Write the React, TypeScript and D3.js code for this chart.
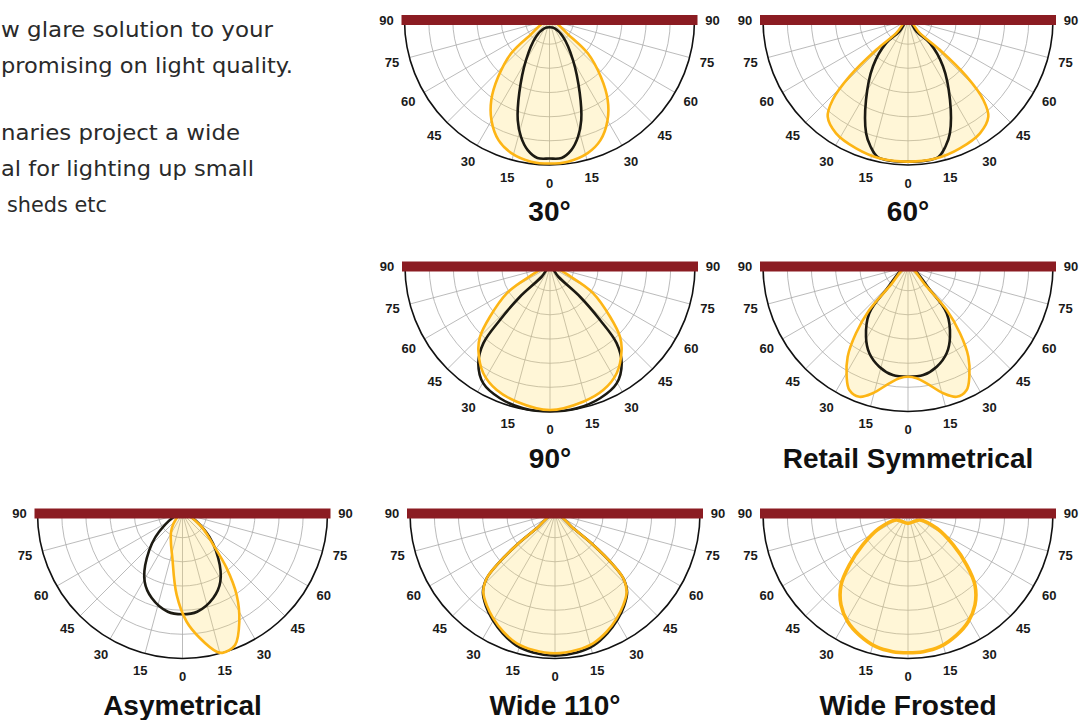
import React from "react";
import * as d3 from "d3";

// [angle from nadir in degrees (+ = right), relative intensity 0..1]
type Pt = [number, number];

const introLines = [
  "w glare solution to your",
  "promising on light quality.",
  "naries project a wide",
  "al for lighting up small",
  "sheds etc",
];

const tickAngles = [-90, -75, -60, -45, -30, -15, 0, 15, 30, 45, 60, 75, 90];
const spokeAngles = [-75, -60, -45, -30, -15, 0, 15, 30, 45, 60, 75];
const ringLevels = [0.167, 0.333, 0.5, 0.667, 0.833];

const titles = ["30°", "60°", "90°", "Retail Symmetrical", "Asymetrical", "Wide 110°", "Wide Frosted"];

// half profiles (right side, symmetric beams)
const beam30Yellow: Pt[] = [[0, 0.99], [7.4, 0.985], [16, 0.955], [23, 0.9], [30, 0.8], [36, 0.683], [42, 0.53], [49, 0.35], [52, 0.17], [0, 0]];
const beam30Black: Pt[] = [[0, 0.955], [5, 0.955], [9.5, 0.91], [13.7, 0.83], [17.6, 0.724], [22.5, 0.545], [30.4, 0.32], [39, 0.148], [32, 0.068], [0, 0.05]];

const beam60Yellow: Pt[] = [[0, 0.977], [11.7, 0.974], [22, 0.955], [32.4, 0.926], [39.7, 0.867], [43.3, 0.758], [46, 0.563], [46.8, 0.3], [42, 0.124], [0, 0]];
const beam60Black: Pt[] = [[0, 0.978], [7, 0.978], [12.5, 0.968], [16.5, 0.91], [20.3, 0.833], [27.7, 0.623], [37.1, 0.4], [43.4, 0.22], [36.6, 0.1], [0, 0]];

const beam90Yellow: Pt[] = [[0, 0.99], [13.8, 0.96], [23.3, 0.928], [32, 0.868], [40.6, 0.759], [44.9, 0.684], [50.1, 0.54], [58.2, 0.351], [63.1, 0.18], [0, 0]];
const beam90Black: Pt[] = [[0, 1.0], [10.7, 0.995], [20.8, 0.972], [29.7, 0.928], [36.5, 0.831], [41, 0.7], [43.1, 0.505], [44.8, 0.294], [39, 0.091], [0, 0]];

const retailYellow: Pt[] = [[0, 0.76], [4.4, 0.773], [9.1, 0.816], [15.6, 0.908], [20.5, 0.959], [25.4, 0.943], [29.1, 0.87], [33.8, 0.748], [37.9, 0.584], [41.7, 0.4], [42.8, 0.19], [0, 0]];
const retailBlack: Pt[] = [[0, 0.76], [8, 0.756], [16, 0.719], [24, 0.655], [30.9, 0.564], [39.6, 0.419], [43.1, 0.222], [0, 0]];

// asymmetric beam: full loop
const asymYellow: Pt[] = [[0, 0], [-36, 0.126], [-11.5, 0.339], [-4.1, 0.563], [2.2, 0.747], [8, 0.869], [13.9, 0.982], [16.2, 1.0], [21.8, 0.977], [27.7, 0.843], [33.6, 0.675], [38.9, 0.486], [44.4, 0.304], [56.7, 0.144]];
const asymBlack: Pt[] = [[0, 0.695], [8.5, 0.685], [20, 0.62], [29, 0.538], [38.6, 0.395], [52, 0.205], [0, 0]];

const wide110Yellow: Pt[] = [[0, 0.964], [9, 0.953], [16.4, 0.933], [23.6, 0.89], [30.5, 0.839], [36.7, 0.788], [42.5, 0.732], [46.5, 0.649], [48.5, 0.536], [50.6, 0.342], [51, 0.162], [0, 0]];
const wide110Black: Pt[] = [[0, 0.98], [9, 0.97], [16.4, 0.948], [23.6, 0.902], [30.5, 0.85], [36.7, 0.797], [42.5, 0.736], [46.5, 0.649], [48.5, 0.536], [50.6, 0.342], [51, 0.162], [0, 0]];

const frostedYellow: Pt[] = [[0, 0.96], [6.3, 0.959], [13.5, 0.945], [21.8, 0.903], [29.1, 0.854], [36.2, 0.782], [43.1, 0.676], [48.7, 0.539], [55.2, 0.38], [62.7, 0.223], [61.6, 0.094], [0, 0.068]];

const mirror = (half: Pt[]): Pt[] => [
  ...half,
  ...half.slice().reverse().filter((p) => p[0] !== 0).map(([a, r]) => [-a, r] as Pt),
];

const R = 145;
const LABEL_R = 163;

const layout = [
  { cx: 549.5, cy: 20 },
  { cx: 908, cy: 20 },
  { cx: 550, cy: 266.5 },
  { cx: 908, cy: 266.5 },
  { cx: 182.5, cy: 513.5 },
  { cx: 555, cy: 513.5 },
  { cx: 908, cy: 513.5 },
];

const curves: { yellow: Pt[]; black: Pt[] | null; thick?: boolean }[] = [
  { yellow: mirror(beam30Yellow), black: mirror(beam30Black) },
  { yellow: mirror(beam60Yellow), black: mirror(beam60Black) },
  { yellow: mirror(beam90Yellow), black: mirror(beam90Black) },
  { yellow: mirror(retailYellow), black: mirror(retailBlack) },
  { yellow: asymYellow, black: mirror(asymBlack) },
  { yellow: mirror(wide110Yellow), black: mirror(wide110Black) },
  { yellow: mirror(frostedYellow), black: null, thick: true },
];

const rScale = d3.scaleLinear().domain([0, 1]).range([0, R]);
const toRad = (deg: number) => Math.PI - (deg * Math.PI) / 180;

const radial = d3
  .lineRadial<Pt>()
  .angle((d) => toRad(d[0]))
  .radius((d) => rScale(d[1]))
  .curve(d3.curveCatmullRomClosed.alpha(0.5));

const ringPath = (r: number) => {
  const p = d3.path();
  p.moveTo(r, 0);
  p.arc(0, 0, r, 0, Math.PI);
  return p.toString();
};

const YELLOW = "#FDB515";
const BLACK = "#1c1a12";
const BAR = "#8B1C22";

function PolarChart({ i }: { i: number }) {
  const { cx, cy } = layout[i];
  const c = curves[i];
  return (
    <g transform={`translate(${cx},${cy})`}>
      {spokeAngles.map((a) => {
        const [x, y] = d3.pointRadial(toRad(a), rScale(1));
        return <line key={a} x1={0} y1={0} x2={x} y2={y} stroke="#a9a9a9" strokeWidth={0.8} />;
      })}
      {ringLevels.map((l) => (
        <path key={l} d={ringPath(rScale(l))} fill="none" stroke="#a9a9a9" strokeWidth={0.8} />
      ))}
      <path d={ringPath(rScale(1))} fill="none" stroke="#111" strokeWidth={1.6} />
      <path d={radial(c.yellow) || ""} fill="rgb(255,220,100)" fillOpacity={0.26} stroke="none" />
      {c.black && <path d={radial(c.black) || ""} fill="none" stroke={BLACK} strokeWidth={2.6} />}
      <path d={radial(c.yellow) || ""} fill="none" stroke={YELLOW} strokeWidth={c.thick ? 3.6 : 2.6} strokeLinejoin="round" />
      <rect x={-R - 3} y={-5} width={2 * R + 6} height={10} fill={BAR} />
      {tickAngles.map((a) => {
        const [x, y] = d3.pointRadial(toRad(a), LABEL_R);
        return (
          <text key={a} x={x} y={y} textAnchor="middle" dominantBaseline="central"
            fontFamily="Liberation Sans, Arial, sans-serif" fontWeight="bold" fontSize={13} fill="#1a1a1a">
            {Math.abs(a)}
          </text>
        );
      })}
      <text x={0} y={201} textAnchor="middle" fontFamily="Liberation Sans, Arial, sans-serif"
        fontWeight="bold" fontSize={28} fill="#111">
        {titles[i]}
      </text>
    </g>
  );
}

const introLeft = [1, 1, 1, 1, 7];
const introRight = [273, 293, 240, 254, 107];
const introBase = [36.5, 73, 139.5, 176, 212];

export default function App() {
  return (
    <svg width={1089} height={720} style={{ position: "absolute", left: 0, top: 0, background: "#fff" }}>
      {introLines.map((t, k) => (
        <text key={k} x={introLeft[k]} y={introBase[k]} textLength={introRight[k] - introLeft[k]}
          lengthAdjust="spacingAndGlyphs" fontFamily="DejaVu Sans, sans-serif"
          fontSize={22} fill="#2a2a2a">
          {t}
        </text>
      ))}
      {layout.map((_, i) => (
        <PolarChart key={i} i={i} />
      ))}
    </svg>
  );
}
